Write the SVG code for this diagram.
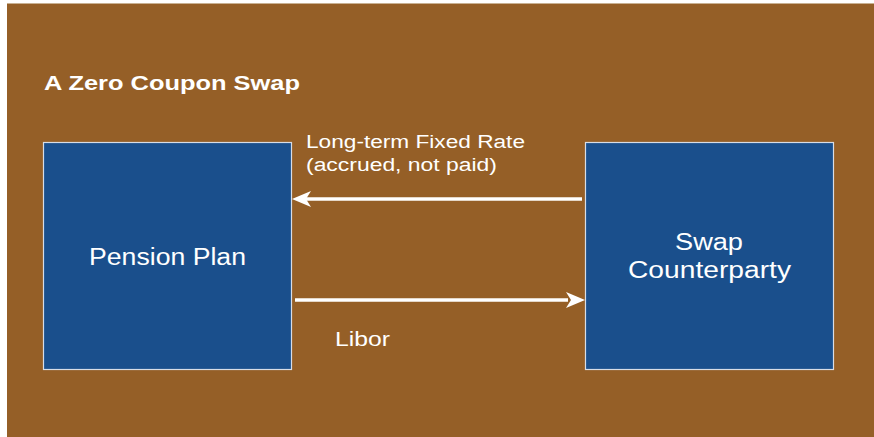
<svg xmlns="http://www.w3.org/2000/svg" width="874" height="437" viewBox="0 0 874 437">
<defs>
<style>
.t{font-family:"Liberation Sans",Arial,sans-serif;fill:#ffffff}
.box{fill:#1a4f8c;stroke:#d8dde6;stroke-width:1.2}
.c{stroke:#ffffff;stroke-width:3.5;fill:none}
.head{fill:#ffffff}
</style>
</defs>
<rect x="0" y="0" width="874" height="437" fill="#ffffff"/>
<rect x="7" y="3" width="867" height="434" fill="#955f27"/>
<line x1="7" y1="3.5" x2="874" y2="3.5" stroke="#c9b091" stroke-width="1"/>
<text class="t" x="44" y="90" font-size="21" font-weight="bold" textLength="256" lengthAdjust="spacingAndGlyphs">A Zero Coupon Swap</text>
<g id="pension-plan">
<rect class="box" x="43.5" y="142.5" width="248" height="227"/>
<text class="t" x="89" y="265" font-size="23" textLength="157" lengthAdjust="spacingAndGlyphs">Pension Plan</text>
</g>
<g id="swap-counterparty">
<rect class="box" x="585.5" y="142.5" width="248" height="227"/>
<text class="t" x="675" y="250" font-size="23" textLength="68" lengthAdjust="spacingAndGlyphs">Swap</text>
<text class="t" x="628" y="278" font-size="23" textLength="163" lengthAdjust="spacingAndGlyphs">Counterparty</text>
</g>
<g id="connectors">
<line class="c" x1="582" y1="199" x2="306" y2="199"/>
<path class="head" d="M292,199 L311,191 L306,199 L311,207 Z"/>
<line class="c" x1="295" y1="300" x2="568" y2="300"/>
<path class="head" d="M585,300 L566,292 L571,300 L566,308 Z"/>
<text class="t" x="306" y="148" font-size="18" textLength="219" lengthAdjust="spacingAndGlyphs">Long-term Fixed Rate</text>
<text class="t" x="306" y="171" font-size="18" textLength="191" lengthAdjust="spacingAndGlyphs">(accrued, not paid)</text>
<text class="t" x="335" y="346" font-size="20" textLength="55" lengthAdjust="spacingAndGlyphs">Libor</text>
</g>
</svg>
